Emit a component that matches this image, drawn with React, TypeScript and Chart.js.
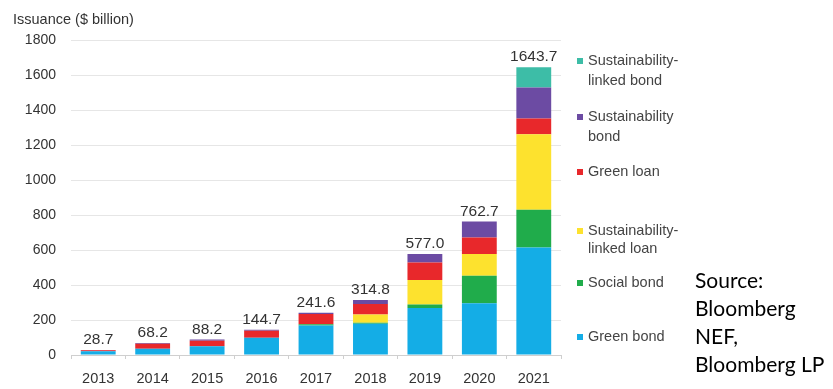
import React, { useEffect, useRef } from "react";
import { Chart, registerables } from "chart.js";

Chart.register(...registerables);

const years = ["2013", "2014", "2015", "2016", "2017", "2018", "2019", "2020", "2021"];
const greenBond = [22, 36, 50, 98, 168, 178, 269, 296, 615];
const socialBond = [0, 0, 0, 0, 8, 7, 19, 157, 215];
const sustLinkedLoan = [0, 0, 0, 0, 0, 46, 141, 124, 432];
const greenLoan = [5, 28, 32, 40, 58, 61, 100, 95, 89];
const sustBond = [1.7, 4.2, 6.2, 6.7, 7.6, 22.8, 48, 90.7, 177];
const sustLinkedBond = [0, 0, 0, 0, 0, 0, 0, 0, 115.7];

const seriesNames = [
  "Green bond",
  "Social bond",
  "Sustainability-linked loan",
  "Green loan",
  "Sustainability bond",
  "Sustainability-linked bond",
];
const seriesColors = ["#14ADE6", "#20AC4B", "#FDE22E", "#E8282B", "#6C4BA3", "#3DBDA7"];
const legendLines = [
  ["Green bond"],
  ["Social bond"],
  ["Sustainability-", "linked loan"],
  ["Green loan"],
  ["Sustainability", "bond"],
  ["Sustainability-", "linked bond"],
];
const legendY = [
  [337],
  [283],
  [231, 249],
  [172],
  [117, 137],
  [61, 81],
];
const yTicks = [0, 200, 400, 600, 800, 1000, 1200, 1400, 1600, 1800];

const FONT = "'Liberation Sans', Arial, sans-serif";

export default function App() {
  const ref = useRef<HTMLCanvasElement>(null);

  useEffect(() => {
    document.body.style.margin = "0";
    const canvas = ref.current!;
    const seriesData = [greenBond, socialBond, sustLinkedLoan, greenLoan, sustBond, sustLinkedBond];

    const overlay = {
      id: "overlay",
      afterDatasetsDraw(chart: any) {
        const ctx = chart.ctx;
        const xs = chart.scales.x;
        const ys = chart.scales.y;
        ctx.save();
        // totals
        ctx.font = `15.5px ${FONT}`;
        ctx.fillStyle = "#333";
        ctx.textAlign = "center";
        ctx.textBaseline = "alphabetic";
        years.forEach((_, i) => {
          const total = seriesData.reduce((s, arr) => s + arr[i], 0);
          const x = xs.getPixelForValue(i);
          const y = ys.getPixelForValue(total);
          ctx.fillText(total.toFixed(1), x, y - 6);
        });
        // title
        ctx.font = `14.5px ${FONT}`;
        ctx.textAlign = "left";
        ctx.fillText("Issuance ($ billion)", 13, 24);
        // legend
        ctx.textBaseline = "middle";
        legendLines.forEach((lines, k) => {
          ctx.fillStyle = seriesColors[k];
          ctx.fillRect(577, legendY[k][0] - 3, 6, 6);
          ctx.fillStyle = "#444";
          lines.forEach((ln, j) => ctx.fillText(ln, 588, legendY[k][j]));
        });
        ctx.restore();
      },
    };

    const chart = new Chart(canvas, {
      type: "bar",
      data: {
        labels: years,
        datasets: seriesData.map((d, k) => ({
          label: seriesNames[k],
          data: d,
          backgroundColor: seriesColors[k],
          borderWidth: 0,
          barPercentage: 0.64,
          categoryPercentage: 1,
        })),
      },
      options: {
        responsive: false,
        animation: false,
        layout: { padding: { top: 40, right: 272, left: 0, bottom: 0 } },
        plugins: {
          legend: { display: false },
          tooltip: { enabled: false },
          title: { display: false },
        },
        scales: {
          x: {
            stacked: true,
            grid: {
              display: true,
              drawOnChartArea: false,
              drawTicks: true,
              tickLength: 4,
              color: "#cfcfcf",
              offset: true,
            },
            border: { display: true, color: "#cfcfcf" },
            ticks: {
              color: "#333",
              font: { family: FONT, size: 14.5 },
              padding: 11,
            },
            afterFit: (s: any) => {
              s.height = 34;
            },
          },
          y: {
            stacked: true,
            min: 0,
            max: 1800,
            afterBuildTicks: (s: any) => {
              s.ticks = yTicks.map((v) => ({ value: v }));
            },
            grid: { color: "#e6e6e6", drawTicks: false },
            border: { display: false },
            ticks: {
              color: "#333",
              font: { family: FONT, size: 14 },
              padding: 15,
              callback: (v: any) => String(v),
            },
            afterFit: (s: any) => {
              s.width = 71;
            },
          },
        },
      },
      plugins: [overlay],
    });
    return () => chart.destroy();
  }, []);

  return (
    <div style={{ position: "relative", width: 833, height: 389, background: "#fff" }}>
      <canvas ref={ref} width={833} height={389} style={{ position: "absolute", left: 0, top: 0 }} />
      <div
        style={{
          position: "absolute",
          left: 695,
          top: 266,
          font: "21px Lato, 'Open Sans', sans-serif",
          lineHeight: "28px",
          color: "#000",
          whiteSpace: "nowrap",
        }}
      >
        Source:
        <br />
        Bloomberg
        <br />
        NEF,
        <br />
        Bloomberg LP
      </div>
    </div>
  );
}
